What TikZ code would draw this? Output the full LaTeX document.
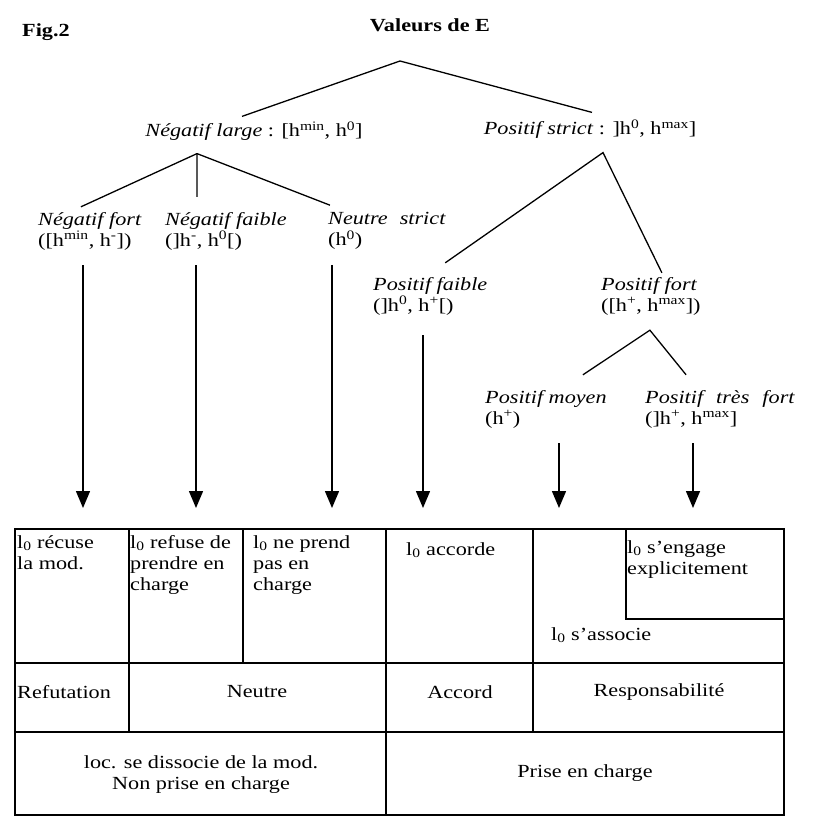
\documentclass[tikz,border=0pt]{standalone}
\usepackage{fontspec}
\setmainfont{Liberation Serif}[FakeStretch=1.2]
\usepackage{tikz}
\usetikzlibrary{calc,positioning,arrows.meta}

\tikzset{
    lbl/.style={anchor=west, align=left, inner sep=2pt},
    cell/.style={anchor=north west, align=left, inner sep=2pt},
    rowlbl/.style={align=center, inner sep=2pt},
    branch/.style={line width=1.3pt},
    arr/.style={-{Triangle[length=17pt,width=14pt]}, line width=1.5pt},
    grid/.style={line width=1.4pt}
}

\begin{document}
\begin{tikzpicture}[x=1pt, y=-1pt, font=\fontsize{18.5}{21}\selectfont]
    \useasboundingbox (0,0) rectangle (822,816);
    \fill[white] (0,0) rectangle (822,816);

    % titre
    \node[anchor=west, inner sep=0pt, font=\fontsize{18.5}{21}\selectfont\bfseries] (fig) at (22,32) {Fig.2};
    \node[inner sep=2pt, font=\fontsize{18.5}{21}\selectfont\bfseries] (valeurs) at (430,25) {Valeurs de E};

    % premier niveau
    \node[inner sep=2pt] (nlarge) at (254,131) {\textit{Négatif large} : [h\textsuperscript{min}, h\textsuperscript{0}]};
    \node[inner sep=2pt] (pstrict) at (590,129) {\textit{Positif strict} : ]h\textsuperscript{0}, h\textsuperscript{max}]};

    % second niveau
    \node[lbl] (nfort) at (36,231) {\textit{Négatif fort}\\([h\textsuperscript{min}, h\textsuperscript{-}])};
    \node[lbl] (nfaible) at (163,231) {\textit{Négatif faible}\\(]h\textsuperscript{-}, h\textsuperscript{0}[)};
    \node[lbl] (nstrict) at (326,231) {\textit{Neutre\hspace{12pt}strict}\\(h\textsuperscript{0})};
    \node[lbl] (pfaible) at (371,296) {\textit{Positif faible}\\(]h\textsuperscript{0}, h\textsuperscript{+}[)};
    \node[lbl] (pfort) at (599,296) {\textit{Positif fort}\\([h\textsuperscript{+}, h\textsuperscript{max}])};
    \node[lbl] (pmoyen) at (483,409) {\textit{Positif moyen}\\(h\textsuperscript{+})};
    \node[lbl] (ptres) at (643,409) {\textit{Positif\hspace{13pt}très\hspace{13pt}fort}\\(]h\textsuperscript{+}, h\textsuperscript{max}]};

    % embranchements
    \coordinate (rA) at (400,61);
    \coordinate (nlA) at ([xshift=-57pt,yshift=-11pt]nlarge.south);
    \coordinate (psA) at ([xshift=13pt,yshift=-12pt]pstrict.south);
    \coordinate (pfA) at ([xshift=-1pt,yshift=-13pt]pfort.south);

    \draw[branch] ([xshift=-12pt,yshift=3pt]nlarge.north) -- (rA) -- ([xshift=2pt,yshift=5pt]pstrict.north);
    \draw[branch] ([xshift=-9pt,yshift=3pt]nfort.north) -- (nlA);
    \draw[branch] (nlA) -- ([xshift=-29pt,yshift=13pt]nfaible.north);
    \draw[branch] (nlA) -- ([xshift=4pt,yshift=5pt]nstrict.north west);
    \draw[branch] ([xshift=15pt,yshift=12pt]pfaible.north) -- (psA) -- ([xshift=11pt,yshift=2pt]pfort.north);
    \draw[branch] ([xshift=37pt,yshift=13pt]pmoyen.north) -- (pfA) -- ([xshift=-34pt,yshift=13pt]ptres.north);

    % fleches vers le tableau
    \coordinate (t1) at (83,508);
    \coordinate (t2) at (196,508);
    \coordinate (t3) at (332,508);
    \coordinate (t4) at (423,508);
    \coordinate (t5) at (559,508);
    \coordinate (t6) at (693,508);
    \draw[arr] ($(t1 |- nfort.south)+(0,13)$) -- (t1);
    \draw[arr] ($(t2 |- nfaible.south)+(0,13)$) -- (t2);
    \draw[arr] ($(t3 |- nstrict.south)+(0,13)$) -- (t3);
    \draw[arr] ($(t4 |- pfaible.south)+(0,18)$) -- (t4);
    \draw[arr] ($(t5 |- pmoyen.south)+(0,13)$) -- (t5);
    \draw[arr] ($(t6 |- ptres.south)+(0,13)$) -- (t6);

    % tableau
    \draw[grid] (15,529) rectangle (784,815);
    \draw[grid] (15,663) -- (784,663);
    \draw[grid] (15,732) -- (784,732);
    \draw[grid] (129,529) -- (129,732);
    \draw[grid] (243,529) -- (243,663);
    \draw[grid] (386,529) -- (386,815);
    \draw[grid] (533,529) -- (533,732);
    \draw[grid] (626,529) -- (626,619) -- (784,619);

    \node[cell] (recuse) at (15,533) {l\textsubscript{0} récuse\\la mod.};
    \node[cell] (refuse) at (128,533) {l\textsubscript{0} refuse de\\prendre en\\charge};
    \node[cell] (neprend) at (251,533) {l\textsubscript{0} ne prend\\pas en\\charge};
    \node[cell] (accorde) at (404,540) {l\textsubscript{0} accorde};
    \node[cell] (engage) at (625,538) {l\textsubscript{0} s’engage\\explicitement};
    \node[lbl] (associe) at (549,635) {l\textsubscript{0} s’associe};

    \node[lbl] (refut) at (15,692) {Refutation};
    \node[rowlbl] (neutre) at (257,692) {Neutre};
    \node[rowlbl] (accord) at (460,692) {Accord};
    \node[rowlbl] (respons) at (659,692) {Responsabilité};

    \node[rowlbl] (nonprise) at (201,775) {loc. se dissocie de la mod.\\Non prise en charge};
    \node[rowlbl] (prise) at (585,773) {Prise en charge};
\end{tikzpicture}
\end{document}
